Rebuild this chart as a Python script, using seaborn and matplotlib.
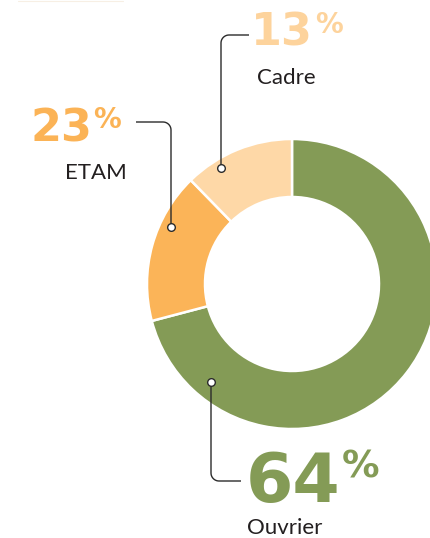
import matplotlib
matplotlib.use("Agg")
import matplotlib.pyplot as plt
import numpy as np
import seaborn as sns

# ---- data ----
categories = ["Ouvrier", "ETAM", "Cadre"]
label_pct = [64, 23, 13]                 # printed percentages
slice_share = [70.9, 16.8, 12.3]         # arc shares as drawn in the picture
slice_colors = ["#849B56", "#FBB458", "#FED8A7"]
number_colors = ["#849B56", "#FBB356", "#FDD39C"]

sns.set_theme(style="white")
plt.rcParams['font.family'] = ['Lato', 'DejaVu Sans']

W, H = 430, 538
fig = plt.figure(figsize=(W / 100, H / 100), dpi=100)
ax = fig.add_axes([0, 0, 1, 1])

def Y(y):
    return H - y

cx, cy = 292, 284
ax.pie(slice_share, colors=slice_colors, startangle=90, counterclock=False,
       center=(cx, Y(cy)), radius=145,
       wedgeprops=dict(width=58, edgecolor="white", linewidth=1.8), frame=True)
ax.set_xlim(0, W)
ax.set_ylim(0, H)
ax.set_aspect("equal")
ax.axis("off")

LINE = "#2b2b2b"

def leader(dot, corner_y, end_x, r=8):
    x0, y0 = dot
    sv = -1 if corner_y < y0 else 1
    sh = 1 if end_x > x0 else -1
    pts = [(x0, y0), (x0, corner_y - sv * r)]
    ccx, ccy = x0 + sh * r, corner_y - sv * r
    for t in np.linspace(0, np.pi / 2, 12):
        pts.append((ccx - sh * r * np.cos(t), ccy + sv * r * np.sin(t)))
    pts.append((end_x, corner_y))
    xs = [p[0] for p in pts]
    ys = [Y(p[1]) for p in pts]
    ax.plot(xs, ys, color=LINE, lw=1.0, solid_capstyle="butt", zorder=5)
    ax.plot([x0], [Y(y0)], marker="o", ms=5.5, mfc="white", mec=LINE, mew=1.0, zorder=6)

# leaders: Ouvrier, ETAM, Cadre
leader((211, 382), 481, 241)
leader((171, 227), 122, 136)
leader((221, 168), 35, 249)

# big numbers (digits right edge, % left edge, baselines)
num_specs = [
    # digits_right, digits_baseline, digit_size, pct_left, pct_baseline, pct_size
    (340, 502, 49, 342, 478, 27),
    (92, 142, 32, 93, 128, 20),
    (313, 46, 32, 315, 33, 20),
]
for (dr, db, ds, pl, pb, ps), pct, col in zip(num_specs, label_pct, number_colors):
    ax.text(dr, Y(db), f"{pct}", ha="right", va="baseline", fontsize=ds,
            fontweight="bold", color=col, family=["DejaVu Sans"])
    ax.text(pl, Y(pb), "%", ha="left", va="baseline", fontsize=ps,
            fontweight="bold", color=col, family=["DejaVu Sans"])

# category labels
label_pos = [(247, 534), (65, 179), (257, 84)]
for (lx, lb), name in zip(label_pos, categories):
    ax.text(lx, Y(lb), name, ha="left", va="baseline", fontsize=16, color="#231F20")

# faint remnant at top edge
ax.plot([18, 123], [Y(0.5), Y(0.5)], color="#F7EFE4", lw=0.8)

fig.savefig("out.png", dpi=100)
